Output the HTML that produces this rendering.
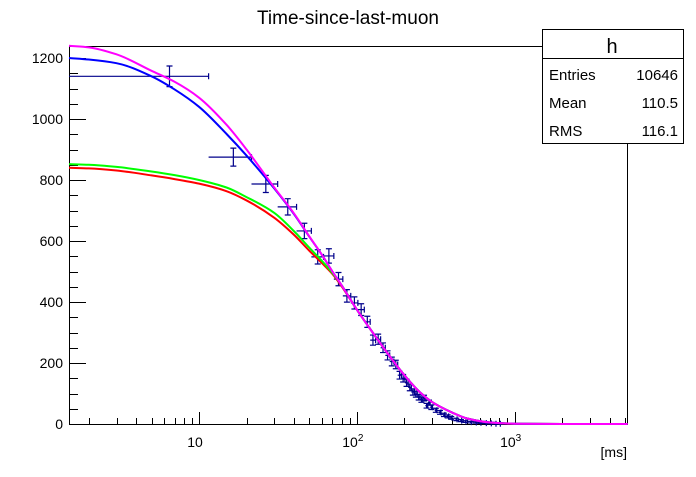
<!DOCTYPE html>
<html><head><meta charset="utf-8"><style>
body{margin:0;background:#fff;}
svg text{font-family:"Liberation Sans",sans-serif;}
</style></head><body>
<svg id="c" width="696" height="472" xmlns="http://www.w3.org/2000/svg">
<rect width="696" height="472" fill="#fff"/>
<text x="348" y="24" font-size="19" text-anchor="middle">Time-since-last-muon</text>
<g id="plot"></g>
<g>
<rect x="542.5" y="29.5" width="141" height="114" fill="#fff" stroke="#000"/>
<line x1="542.5" y1="58.5" x2="683.5" y2="58.5" stroke="#000"/>
<text x="612" y="53" font-size="20" text-anchor="middle">h</text>
<text x="549" y="80" font-size="15">Entries</text><text x="678" y="80" font-size="15" text-anchor="end">10646</text>
<text x="549" y="108" font-size="15">Mean</text><text x="678" y="108" font-size="15" text-anchor="end">110.5</text>
<text x="549" y="136" font-size="15">RMS</text><text x="678" y="136" font-size="15" text-anchor="end">116.1</text>
</g>
</svg>
<script>
const binCenters=[6.5,16.5,26.5,36.5,46.5,56.5,66.5,76.5,86.5,96.5,106.5,116.5,126.5,136.5,146.5,156.5,166.5,176.5,186.5,196.5,206.5,216.5,226.5,236.5,246.5,256.5,266.5,276.5,286.5,296.5,316.5,336.5,356.5,376.5,396.5,426.5,456.5,486.5,526.5,566.5,606.5,656.5,706.5,756.5,806.5];
const binWidths=[10,10,10,10,10,10,10,10,10,10,10,10,10,10,10,10,10,10,10,10,10,10,10,10,10,10,10,10,10,10,10,10,10,10,10,10,10,10,10,10,10,10,10,10,10];
const binValues=[1140,875,787,712,633,548,551,475,420,397,375,335,275,278,250,225,205,195,160,150,135,120,105,98,88,80,85,60,70,55,45,38,30,25,20,15,11,8,6,5,4,3,2,1,1];
const curveT=[1.5,2,3,5,7,10,15,20,30,40,50,60,70,80,100,130,160,200,250,300,400,500,700,1000,2000,5200];
const magenta=[1240,1235,1212,1158,1122,1070,980,900,775,690,615,555,500,455,375,290,225,160,105,72,38,18,5,1,0,0];
const blue=[1200,1195,1183,1140,1097,1040,950,880,772,688,614,555,500,455,375,290,225,160,105,72,38,18,5,1,0,0];
const green=[852,850,843,828,816,800,775,744,692,632,578,535,495,455,375,290,225,160,105,72,38,18,5,1,0,0];
const red=[840,838,831,815,803,788,763,733,676,620,568,528,492,452,375,290,225,160,105,72,38,18,5,1,0,0];
const yTicks=[0,200,400,600,800,1000,1200];
const xDecades=[10,100,1000];

const L=69,R=627,T=46,B=424;
const lx0=Math.log10(1.5),lx1=Math.log10(5150);
const X=t=>L+(Math.log10(t)-lx0)/(lx1-lx0)*(R-L);
const Y=v=>B-v*(B-58)/1200;
const NS="http://www.w3.org/2000/svg";
const g=document.getElementById('plot');
function mk(tag,attrs,parent){const e=document.createElementNS(NS,tag);for(const k in attrs)e.setAttribute(k,attrs[k]);(parent||g).appendChild(e);return e;}

const fr=mk('path',{d:`M${L+.5},${T+.5}H${R+.5}V${B+.5}H${L+.5}Z`,fill:'none',stroke:'#000'});



for(let v=0;v<=1200;v+=50){
  const y=Math.round(Y(v))+.5;const major=v%200===0;
  const t=mk('line',{x1:L,y1:y,x2:L+(major?17:9),y2:y,stroke:'#000'});
  
  
}
yTicks.forEach(v=>{
  const t=mk('text',{x:L-6,y:Y(v)+5,'font-size':14,'text-anchor':'end'});t.textContent=v;
  
  
});
for(let d=1;d<=1000;d*=10){for(let m=1;m<=9;m++){const t=m*d;if(t<1.5||t>5150)continue;
  const x=Math.round(X(t))+.5;const major=m===1;
  const l=mk('line',{x1:x,y1:B,x2:x,y2:B-(major?12:6),stroke:'#000'});
  
  
}}
xDecades.forEach(t=>{
  const e=Math.round(Math.log10(t));
  const tx=mk('text',{x:X(t)-4,y:447,'font-size':14,'text-anchor':'middle'});
  tx.textContent='10';
  const s=mk('tspan',{dy:-6,'font-size':10},tx);s.textContent=e===1?'':e;
  
  
});
const xl=mk('text',{x:627,y:457,'font-size':14,'text-anchor':'end'});xl.textContent='[ms]';



const dg=mk('g',{stroke:'#00008b','stroke-width':1.2,fill:'none'});


binCenters.forEach((c,i)=>{
  const v=binValues[i],err=Math.sqrt(v);
  const lo=Math.max(c-binWidths[i]/2,1.5),hi=c+binWidths[i]/2;
  const x=X(c),y=Y(v),x1=X(lo),x2=X(hi),y1=Y(v+err),y2=Y(v-err);
  const p=mk('path',{d:`M${x1},${y}H${x2}M${x},${y1}V${y2}M${x-3},${y1}H${x+3}M${x-3},${y2}H${x+3}M${x2},${y-3}V${y+3}`},dg);
  
  
});

// monotone cubic (Fritsch-Carlson) in pixel space
function curve(vals,color,name){
  const xs=curveT.map(X),ys=vals.map(Y),n=xs.length;
  const h=[],s=[];for(let i=0;i<n-1;i++){h[i]=xs[i+1]-xs[i];s[i]=(ys[i+1]-ys[i])/h[i];}
  const m=[s[0]];for(let i=1;i<n-1;i++){m[i]=(s[i-1]*s[i]<=0)?0:3*(h[i-1]+h[i])/((2*h[i]+h[i-1])/s[i-1]+(h[i]+2*h[i-1])/s[i]);}m[n-1]=s[n-2];
  let d=`M${xs[0]},${ys[0]}`;
  for(let i=0;i<n-1;i++){
    d+=`C${xs[i]+h[i]/3},${ys[i]+m[i]*h[i]/3} ${xs[i+1]-h[i]/3},${ys[i+1]-m[i+1]*h[i]/3} ${xs[i+1]},${ys[i+1]}`;
  }
  const p=mk('path',{d,fill:'none',stroke:color,'stroke-width':2});
  
  
}
curve(red,'#ff0000','fit-red');
curve(green,'#00ff00','fit-green');
curve(blue,'#0000ff','fit-blue');
curve(magenta,'#ff00ff','fit-magenta');
</script>
</body></html>
